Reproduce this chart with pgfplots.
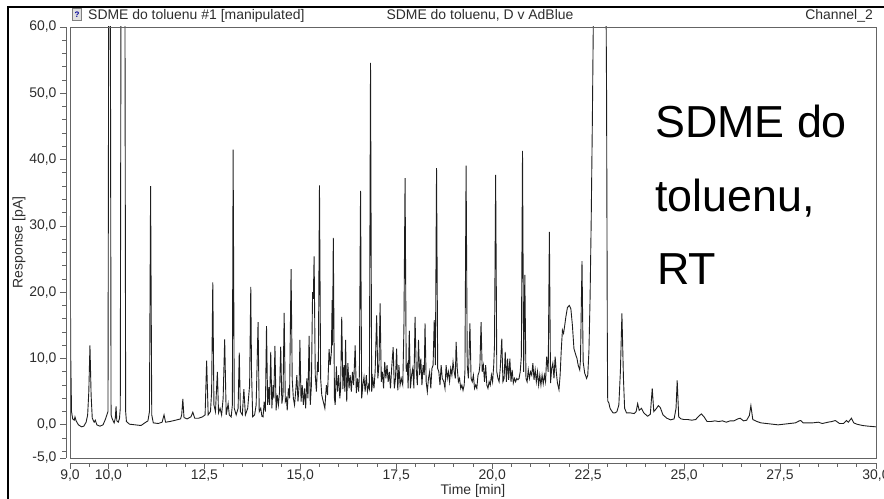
\documentclass[border=0pt]{standalone}
\usepackage{fontspec}
\setmainfont{Liberation Sans}
\usepackage{pgfplots}
\pgfplotsset{compat=1.18}
\definecolor{AxGray}{RGB}{100,100,100}
\definecolor{TxtGray}{RGB}{45,45,45}
\definecolor{Trace}{RGB}{30,30,30}
\newcommand{\lbl}{\fontsize{14}{16}\selectfont}

\begin{document}
\begin{tikzpicture}
\path[use as bounding box] (-70bp,-41bp) rectangle (814bp,458bp);
\begin{axis}[
  at={(0,0)}, anchor=south west,
  scale only axis, width=806bp, height=431bp,
  xmin=9, xmax=30, ymin=-5, ymax=60,
  axis lines*=left,
  axis x line shift=5bp,
  axis y line shift=4bp,
  axis line style={AxGray, line width=0.8bp},
  tick style={AxGray, line width=0.8bp},
  tick align=outside,
  major tick length=6bp,
  minor tick length=3.5bp,
  xtick={9,10,12.5,15,17.5,20,22.5,25,27.5,30},
  minor xtick={9,9.5,...,30},
  ytick={-5,0,10,20,30,40,50,60},
  minor ytick={-4,-2,...,60},
  /pgf/number format/use comma,
  /pgf/number format/fixed,
  /pgf/number format/fixed zerofill,
  /pgf/number format/precision=1,
  /pgf/number format/assume math mode=true,
  tick label style={font=\lbl, text=TxtGray},
  xticklabel style={yshift=2.5bp},
  xlabel={Time [min]}, ylabel={Response [pA]},
  label style={font=\lbl, text=TxtGray},
  xlabel style={at={(axis description cs:0.5,-0.0858)}, anchor=base},
  ylabel style={at={(axis description cs:-0.0633,0.5)}, anchor=center},
  extra description/.code={
    \draw[AxGray, line width=0.8bp] (axis description cs:0,0) rectangle (axis description cs:1,1);
  },
]
\addplot[Trace, line width=0.9bp, mark=none] table {
x y
9.000 31.5
9.020 10
9.040 2.0
9.070 0.9
9.110 0.7
9.130 1.2
9.160 0.6
9.220 0.0
9.300 -0.3
9.360 -0.2
9.420 0.4
9.460 1.5
9.490 5.0
9.520 12.0
9.550 4.5
9.580 1.0
9.630 0.4
9.660 0.7
9.700 0.0
9.780 -0.2
9.860 0.0
9.920 0.8
9.960 1.5
9.990 2.0
10.010 70
10.050 70
10.070 1.5
10.100 0.9
10.150 0.3
10.180 1.0
10.200 2.8
10.220 0.6
10.260 0.4
10.290 1.0
10.310 2.5
10.330 70
10.430 70
10.450 2.0
10.470 0.5
10.550 0.1
10.700 0.0
10.850 -0.1
10.950 0.3
11.030 0.6
11.070 2.0
11.100 36.0
11.130 1.5
11.170 0.3
11.300 0.2
11.400 0.4
11.450 1.5
11.490 0.4
11.600 0.5
11.750 0.7
11.880 0.9
11.910 1.5
11.940 3.9
11.970 1.1
12.050 0.9
12.150 1.2
12.200 1.9
12.250 1.0
12.350 1.0
12.450 1.2
12.520 1.5
12.560 9.7
12.600 1.5
12.660 2.0
12.690 5.0
12.720 21.5
12.750 3.0
12.790 2.0
12.840 8.0
12.870 1.8
12.910 2.5
12.950 1.5
12.990 4.0
13.030 12.9
13.070 1.5
13.100 2.5
13.120 3.2
13.150 1.5
13.200 1.2
13.230 3.0
13.250 41.5
13.280 2.5
13.330 1.5
13.380 2.5
13.410 10.9
13.440 2.0
13.490 1.5
13.530 5.4
13.570 1.5
13.630 2.5
13.680 6.0
13.710 20.8
13.730 8.0
13.760 1.2
13.810 1.5
13.850 3.0
13.900 15.5
13.930 2.0
13.970 2.5
14.000 1.3
14.030 1.2
14.06 3.5
14.09 2.0
14.12 14.9
14.15 3.0
14.18 5.7
14.20 3.0
14.23 11.0
14.26 2.5
14.29 6.0
14.31 4.0
14.34 11.9
14.37 2.2
14.40 4.5
14.43 3.0
14.46 5.0
14.49 11.8
14.52 3.2
14.55 4.5
14.58 16.9
14.61 3.5
14.64 4.0
14.66 2.2
14.69 5.5
14.72 4.0
14.76 23.5
14.79 6.8
14.82 4.0
14.85 3.0
14.88 5.0
14.91 7.5
14.94 3.5
14.97 6.0
14.99 12.8
15.02 3.5
15.05 6.0
15.08 3.0
15.11 5.5
15.14 2.5
15.17 7.0
15.20 4.0
15.23 13.4
15.26 3.0
15.29 6.0
15.32 20.0
15.34 19.0
15.36 25.4
15.39 7.5
15.42 5.0
15.45 9.5
15.47 8.0
15.50 36.1
15.53 7.0
15.56 4.5
15.59 3.7
15.62 3.0
15.64 2.5
15.68 6.0
15.71 4.5
15.75 11.4
15.78 9.0
15.81 11.0
15.83 18.8
15.84 12.0
15.86 28.2
15.89 4.0
15.91 3.0
15.94 8.8
15.97 5.0
16.00 7.5
16.03 4.0
16.05 5.4
16.08 16.3
16.11 5.4
16.14 9.0
16.16 5.0
16.18 12.8
16.21 3.5
16.24 9.3
16.27 5.5
16.30 7.5
16.33 5.0
16.36 8.0
16.39 6.0
16.43 12.0
16.46 4.8
16.49 7.0
16.52 5.0
16.54 7.5
16.57 35.3
16.60 4.0
16.63 6.0
16.66 7.2
16.69 5.0
16.72 7.5
16.75 5.0
16.78 6.0
16.80 5.5
16.83 54.6
16.86 5.0
16.89 7.0
16.92 5.5
16.95 8.0
16.99 16.5
17.02 7.0
17.05 9.0
17.08 18.3
17.11 6.5
17.14 8.0
17.17 5.5
17.20 9.5
17.23 7.0
17.26 9.0
17.29 6.5
17.32 8.0
17.35 5.5
17.38 8.5
17.42 11.7
17.45 5.5
17.48 7.0
17.51 11.5
17.54 5.2
17.57 9.0
17.60 6.0
17.63 7.0
17.67 6.0
17.70 14.5
17.73 37.2
17.76 8.0
17.79 9.0
17.81 5.5
17.84 14.2
17.87 5.5
17.90 7.5
17.93 8.5
17.96 5.5
17.99 16.3
18.02 8.5
18.05 6.0
18.08 12.8
18.11 7.5
18.14 10.0
18.17 6.0
18.20 9.0
18.23 7.5
18.25 15.3
18.28 6.5
18.31 5.0
18.34 7.0
18.37 8.0
18.40 5.5
18.43 8.5
18.46 9.0
18.49 15.8
18.52 9.0
18.55 38.7
18.58 8.5
18.61 8.0
18.64 6.0
18.67 9.0
18.70 7.0
18.74 6.5
18.77 5.5
18.80 9.0
18.83 7.0
18.86 8.0
18.89 6.5
18.92 8.5
18.95 7.5
18.98 9.5
19.01 8.0
19.04 7.0
19.06 12.5
19.09 8.5
19.12 6.5
19.15 7.0
19.18 5.5
19.21 6.0
19.24 5.2
19.27 6.0
19.29 8.0
19.32 39.1
19.35 9.0
19.38 7.0
19.42 15.3
19.45 7.0
19.48 6.5
19.51 7.5
19.54 5.5
19.57 6.0
19.60 5.5
19.63 7.5
19.66 8.0
19.68 9.0
19.71 15.5
19.74 8.0
19.77 9.0
19.80 6.5
19.83 9.0
19.86 6.0
19.89 5.5
19.92 6.5
19.95 6.0
19.98 7.5
20.01 6.5
20.04 9.0
20.06 12.0
20.09 37.7
20.12 8.0
20.15 7.0
20.18 6.5
20.21 8.5
20.25 13.0
20.28 6.5
20.31 7.0
20.34 11.0
20.37 6.5
20.40 10.0
20.43 6.8
20.46 10.0
20.49 6.5
20.52 8.3
20.55 6.3
20.58 7.0
20.61 6.5
20.64 7.0
20.67 6.8
20.70 7.0
20.73 8.0
20.76 10.3
20.79 41.3
20.82 8.0
20.85 22.6
20.88 7.0
20.91 6.5
20.94 8.3
20.97 7.0
21.00 8.0
21.03 7.5
21.06 9.3
21.09 6.8
21.12 8.3
21.15 6.5
21.18 8.0
21.21 6.0
21.24 7.5
21.27 6.0
21.30 7.5
21.33 6.2
21.36 7.5
21.39 6.5
21.42 10.3
21.46 8.0
21.49 29.1
21.52 6.3
21.55 8.5
21.58 9.3
21.61 7.0
21.64 10.3
21.67 8.0
21.70 6.3
21.74 5.3
21.77 7.5
21.80 11.3
21.83 14.3
21.86 13.8
21.89 15.0
21.92 16.3
21.96 17.7
22.01 18.0
22.05 17.5
22.09 15.0
22.13 11.5
22.18 10.5
22.21 10.0
22.24 9.0
22.28 8.3
22.30 9.8
22.34 24.7
22.37 9.5
22.41 7.8
22.46 7.0
22.49 7.5
22.52 11.0
22.55 19.0
22.58 31.0
22.61 46.0
22.63 58.0
22.65 68.0
22.70 80.0
22.95 80.0
22.98 50.0
23.00 12.0
23.01 3.6
23.04 3.3
23.07 2.5
23.10 2.2
23.15 1.8
23.20 1.8
23.25 2.0
23.30 3.0
23.34 8.0
23.38 16.8
23.42 7.0
23.45 2.5
23.50 1.8
23.60 1.8
23.70 1.7
23.75 2.0
23.79 3.2
23.83 2.2
23.89 2.5
23.95 1.8
24.05 1.3
24.12 1.6
24.17 5.5
24.21 2.0
24.27 2.4
24.33 2.9
24.38 2.6
24.45 1.5
24.55 1.0
24.65 0.75
24.74 0.9
24.79 2.5
24.82 6.7
24.86 1.2
24.92 0.9
25.00 0.8
25.10 0.8
25.20 0.7
25.30 0.8
25.40 1.4
25.45 1.65
25.52 1.2
25.60 0.5
25.70 0.5
25.80 0.6
25.90 0.5
26.00 0.6
26.10 0.4
26.20 0.6
26.30 0.6
26.40 0.9
26.46 1.0
26.55 0.6
26.63 0.7
26.70 1.4
26.74 2.9
26.79 0.8
26.90 0.5
27.00 0.3
27.15 0.2
27.30 0.1
27.45 0.0
27.60 0.1
27.75 0.2
27.90 0.3
28.00 0.6
28.04 0.65
28.10 0.3
28.20 0.3
28.35 0.3
28.50 0.4
28.60 0.2
28.75 0.4
28.85 0.5
28.94 0.65
29.05 0.2
29.15 0.2
29.23 0.65
29.28 0.4
29.36 1.0
29.42 0.3
29.50 0.1
29.65 -0.1
29.80 -0.2
30.00 -0.3
};
\node[anchor=base west, inner sep=0, font=\fontsize{45}{50}\selectfont] at (axis cs:24.24,43.4) {SDME do};
\node[anchor=base west, inner sep=0, font=\fontsize{45}{50}\selectfont] at (axis cs:24.24,32.1) {toluenu,};
\node[anchor=base west, inner sep=0, font=\fontsize{45}{50}\selectfont] at (axis cs:24.29,21.1) {RT};
\end{axis}
% outer frame of the exported window
\draw[black, line width=2bp] (-61.5bp,-45bp) -- (-61.5bp,451bp) -- (820bp,451bp);
% header row
\draw[black!50, fill=black!12] (2.5bp,438bp) rectangle (11.5bp,450bp);
\node[inner sep=0, font=\fontsize{8}{8}\selectfont\bfseries, text=blue!60!black] at (7bp,443bp) {?};
\node[anchor=base west, inner sep=0, font=\lbl, text=TxtGray] at (18bp,438bp) {SDME do toluenu \#1 [manipulated]};
\node[anchor=base, inner sep=0, font=\lbl, text=TxtGray] at (410bp,438bp) {SDME do toluenu, D v AdBlue};
\node[anchor=base east, inner sep=0, font=\lbl, text=TxtGray] at (803bp,438bp) {Channel\_2};
\end{tikzpicture}
\end{document}
